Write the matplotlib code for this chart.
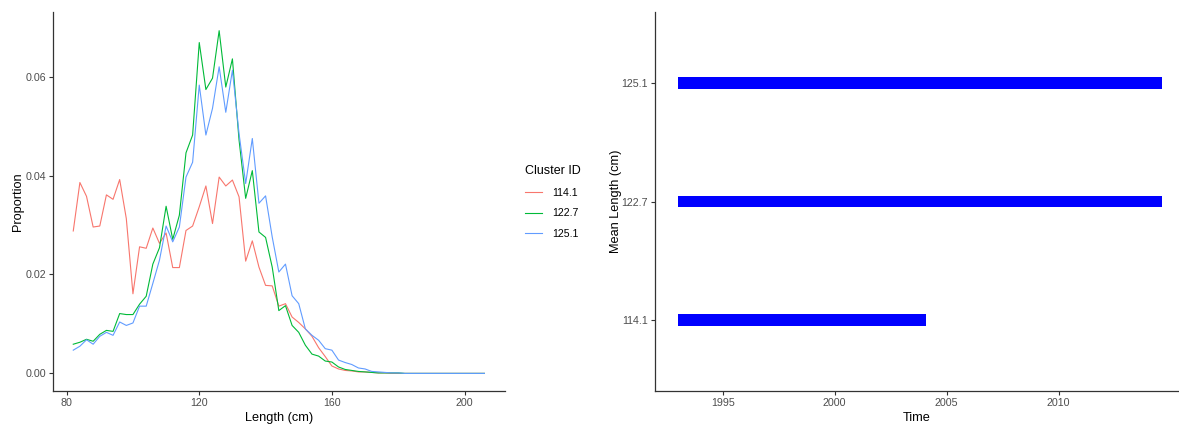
import numpy as np
import matplotlib
matplotlib.use("Agg")
import matplotlib.pyplot as plt

plt.rcParams['font.family'] = ['Liberation Sans', 'DejaVu Sans']

# length bins (cm)
length = np.arange(82, 208, 2)

prop_114 = [0.0288, 0.0386, 0.0358, 0.0296, 0.0298, 0.0361, 0.0352, 0.0392, 0.0313, 0.0161,
            0.0256, 0.0253, 0.0294, 0.0263, 0.0284, 0.0214, 0.0214, 0.0289, 0.0298, 0.0337,
            0.0379, 0.0303, 0.0397, 0.0379, 0.0391, 0.0357, 0.0227, 0.0268, 0.0215, 0.0178,
            0.0177, 0.0136, 0.0141, 0.0114, 0.0103, 0.0090, 0.0075, 0.0052, 0.0034, 0.0015,
            0.0009, 0.0006, 0.0005, 0.0003, 0.0003, 0.0002, 0.0001, 0.0001, 0.0, 0.0,
            0.0, 0.0, 0.0, 0.0, 0.0, 0.0, 0.0, 0.0, 0.0, 0.0,
            0.0, 0.0, 0.0]
prop_122 = [0.0059, 0.0063, 0.0069, 0.0065, 0.0079, 0.0087, 0.0085, 0.0121, 0.0119, 0.0119,
            0.0140, 0.0156, 0.0221, 0.0254, 0.0338, 0.0271, 0.0320, 0.0446, 0.0482, 0.0669,
            0.0574, 0.0597, 0.0693, 0.0579, 0.0636, 0.0472, 0.0354, 0.0410, 0.0286, 0.0275,
            0.0215, 0.0127, 0.0137, 0.0097, 0.0083, 0.0057, 0.0039, 0.0035, 0.0025, 0.0023,
            0.0013, 0.0008, 0.0006, 0.0004, 0.0003, 0.0002, 0.0001, 0.0001, 0.0001, 0.0001,
            0.0, 0.0, 0.0, 0.0, 0.0, 0.0, 0.0, 0.0, 0.0, 0.0,
            0.0, 0.0, 0.0]
prop_125 = [0.0047, 0.0055, 0.0068, 0.0059, 0.0075, 0.0083, 0.0077, 0.0104, 0.0097, 0.0102,
            0.0136, 0.0136, 0.0182, 0.0229, 0.0298, 0.0266, 0.0296, 0.0397, 0.0427, 0.0583,
            0.0482, 0.0536, 0.0620, 0.0528, 0.0613, 0.0485, 0.0384, 0.0475, 0.0344, 0.0359,
            0.0276, 0.0205, 0.0221, 0.0157, 0.0141, 0.0090, 0.0077, 0.0067, 0.0050, 0.0047,
            0.0027, 0.0022, 0.0018, 0.0011, 0.0009, 0.0004, 0.0003, 0.0002, 0.0001, 0.0001,
            0.0, 0.0, 0.0, 0.0, 0.0, 0.0, 0.0, 0.0, 0.0, 0.0,
            0.0, 0.0, 0.0]

cluster_ids = ['114.1', '122.7', '125.1']
colors = ['#F8766D', '#00BA38', '#619CFF']

# time span of each cluster
start_year = [1993.0, 1993.0, 1993.0]
end_year = [2004.07, 2014.62, 2014.62]

tick_col = '#4D4D4D'

fig = plt.figure(figsize=(11.79, 4.24), dpi=100)

# ---- left panel
ax1 = fig.add_axes([0.0447, 0.0785, 0.3836, 0.8923])
for ys, c, lab in zip([prop_114, prop_122, prop_125], colors, cluster_ids):
    ax1.plot(length, ys, color=c, lw=0.8, label=lab)
ax1.set_xlim(75.8, 212.2)
ax1.set_ylim(-0.0035, 0.073)
ax1.set_xticks([80, 120, 160, 200])
ax1.set_yticks([0.0, 0.02, 0.04, 0.06])
ax1.set_yticklabels(['0.00', '0.02', '0.04', '0.06'])
ax1.set_xlabel('Length (cm)', fontsize=9.2, labelpad=3)
ax1.set_ylabel('Proportion', fontsize=9.2, labelpad=1)
leg = ax1.legend(title='Cluster ID', loc='upper left', bbox_to_anchor=(1.036, 0.607),
                 frameon=False, fontsize=7.6, title_fontsize=9.0, handlelength=1.6,
                 handletextpad=0.9, labelspacing=1.0, borderaxespad=0)
leg._legend_box.align = 'left'

# ---- right panel
ax2 = fig.add_axes([0.5556, 0.0778, 0.4444, 0.8939])
ypos = np.arange(len(cluster_ids))
ax2.barh(ypos, np.array(end_year) - np.array(start_year), left=start_year,
         height=0.1, color='#0000FF', edgecolor='none')
ax2.set_xlim(1991.98, 2015.37)
ax2.set_ylim(-0.6, 2.6)
ax2.set_xticks([1995, 2000, 2005, 2010])
ax2.set_yticks(ypos)
ax2.set_yticklabels(cluster_ids)
ax2.set_xlabel('Time', fontsize=9.2, labelpad=3)
ax2.set_ylabel('Mean Length (cm)', fontsize=9.2, labelpad=0)

for ax in (ax1, ax2):
    for s in ('top', 'right'):
        ax.spines[s].set_visible(False)
    for s in ('left', 'bottom'):
        ax.spines[s].set_color('#333333')
        ax.spines[s].set_linewidth(0.9)
    ax.tick_params(axis='both', labelsize=7.7, labelcolor=tick_col, color='#333333',
                   length=3, width=0.8, pad=2)

fig.savefig('out.png', dpi=100)
